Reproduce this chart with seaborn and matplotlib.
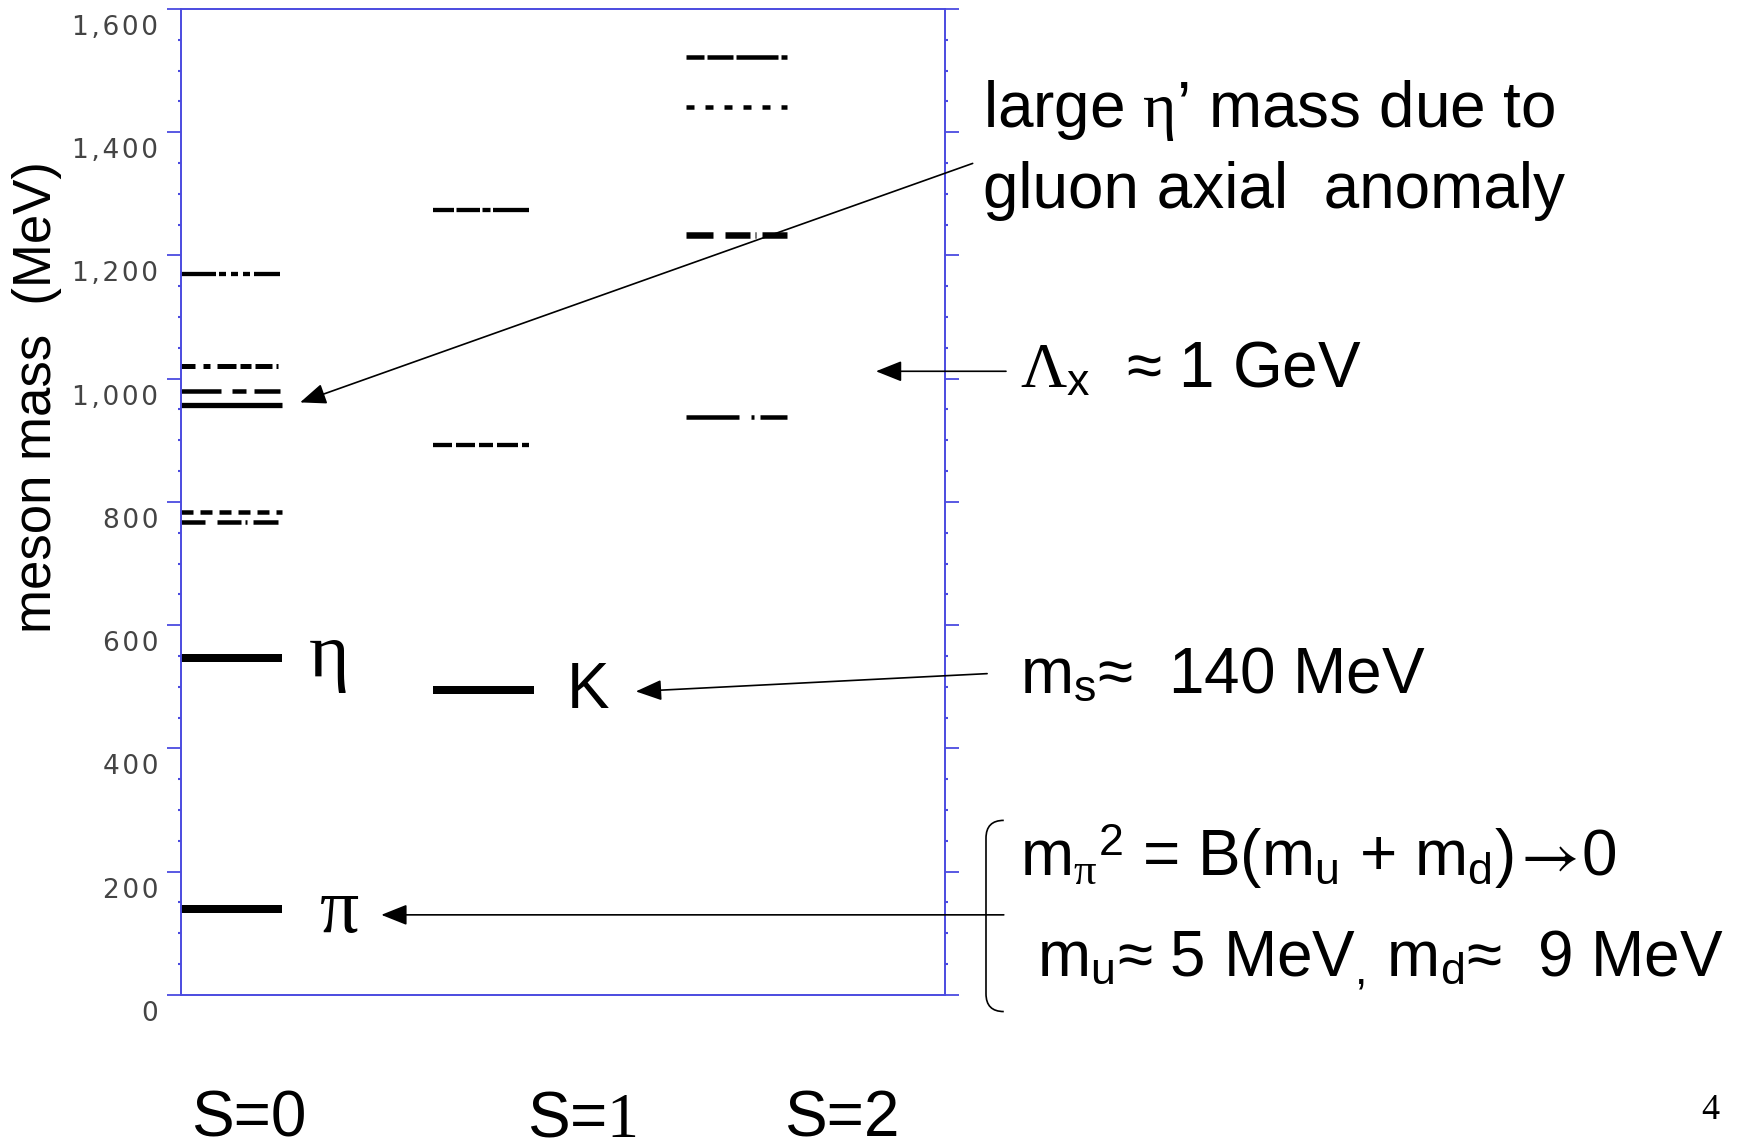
import matplotlib
matplotlib.use("Agg")
import matplotlib.pyplot as plt
import seaborn as sns
from matplotlib.ticker import FixedLocator, AutoMinorLocator
from matplotlib.transforms import ScaledTranslation
from matplotlib.path import Path
from matplotlib.patches import PathPatch, FancyArrowPatch

# ---------------- data ----------------
column_labels = ["S=0", "S=$1$", "S=2"]
level_strangeness = [0, 0, 0, 0, 0, 0, 0, 0, 1, 1, 1, 2, 2, 2, 2]
level_mass = [139, 547, 768, 783, 957, 980, 1021, 1170, 494, 893, 1273, 938, 1233, 1441, 1522]
level_style = ["bold", "bold", "omega", "rho", "solid", "a0", "phi", "h1",
               "bold", "kstar", "k1", "s2a", "s2b", "s2c", "s2d"]
ytick_values = [0, 200, 400, 600, 800, 1000, 1200, 1400, 1600]
ytick_labels = ["0", "200", "400", "600", "800", "1,000", "1,200", "1,400", "1,600"]

# ---------------- styles (pixels) ----------------
STYLES = {
    "bold":  (8.0, None),
    "solid": (5.3, None),
    "omega": (4.5, (24, 12, 24, 4, 2, 6, 25)),
    "rho":   (4.5, (12, 7)),
    "a0":    (4.5, (40, 11, 14, 8, 26)),
    "phi":   (5.0, (14, 8, 7, 7, 19, 4, 11, 4, 17, 4, 2)),
    "h1":    (4.3, (35, 3, 7, 5, 7, 5, 7, 4, 26)),
    "kstar": (4.3, (19, 4, 19, 4, 14, 4, 21, 4, 7)),
    "k1":    (4.3, (21, 2.5, 23.5, 2.5, 8, 2.5, 36)),
    "s2a":   (4.5, (53, 12, 3, 6, 27)),
    "s2b":   (6.5, (27, 12, 25, 5, 1, 6, 25)),
    "s2c":   (4.5, (8, 11)),
    "s2d":   (4.5, (18, 3, 26, 3, 42, 3, 7)),
}
PX = 0.72  # points per pixel at dpi 100
BLUE = "#4b4be0"
HW = 0.2
HAIR = "\u200a"

W, H = 1743, 1147
SC = 1743 / 1568.0

sns.set_style("white")
plt.rcParams["font.family"] = ["Liberation Sans", "DejaVu Sans"]
plt.rcParams["mathtext.fontset"] = "custom"
plt.rcParams["mathtext.rm"] = "Liberation Serif"
plt.rcParams["mathtext.it"] = "Liberation Serif"
plt.rcParams["mathtext.sf"] = "Liberation Sans"
plt.rcParams["mathtext.bf"] = "Liberation Sans:bold"
plt.rcParams["mathtext.fallback"] = "stix"
plt.rcParams["lines.scale_dashes"] = False

fig = plt.figure(figsize=(W / 100, H / 100), dpi=100)
fig.patch.set_facecolor("white")
renderer = fig.canvas.get_renderer()


def fpt(xs, ys):
    return (xs * SC / W, 1 - ys * SC / H)


def ftext(xs, ys, s, **kw):
    kw.setdefault("va", "baseline")
    kw.setdefault("ha", "left")
    kw.setdefault("color", "black")
    x, y = fpt(xs, ys)
    return fig.text(x, y, s, **kw)


def right_edge_shrunk(t):
    return t.get_window_extent(renderer).x1 / SC


ax = fig.add_axes([0.1040, 0.13261, 0.4382, 0.85963])
ax.set_facecolor("white")

for s, m, st in zip(level_strangeness, level_mass, level_style):
    lw_px, pat = STYLES[st]
    ls = "-" if pat is None else (0, tuple(p * PX for p in pat))
    sns.lineplot(x=[s - HW, s + HW], y=[m, m], ax=ax, color="black",
                 linewidth=lw_px * PX, linestyle=ls, dash_capstyle="butt",
                 solid_capstyle="butt", legend=False, estimator=None)

ax.set_xlim(-0.198, 2.828)
ax.set_ylim(0, 1600)
ax.set_xlabel("")
ax.set_xticks([])

for sp in ax.spines.values():
    sp.set_color(BLUE)
    sp.set_linewidth(1.4)
    sp.set_visible(True)

ax.yaxis.set_major_locator(FixedLocator(ytick_values))
ax.set_yticklabels([HAIR.join(lbl) for lbl in ytick_labels])
ax.yaxis.set_minor_locator(AutoMinorLocator(4))
ax.tick_params(axis="y", which="major", left=True, right=True, direction="out",
               length=10, width=1.3, color=BLUE, pad=6.5, labelsize=19,
               labelcolor="#444444")
ax.tick_params(axis="y", which="minor", left=True, right=True, direction="out",
               length=2, width=1.5, color=BLUE)
for lab in ax.get_yticklabels():
    lab.set_fontfamily("DejaVu Sans")
offset = ScaledTranslation(0, -16 / 100, fig.dpi_scale_trans)
for t in ax.yaxis.get_major_ticks():
    t.label1.set_transform(t.label1.get_transform() + offset)

ax.set_ylabel("meson mass  (MeV)", fontsize=38, color="black")
ax.yaxis.label.set_va("center")
ax.yaxis.set_label_coords((37 - 181.2) / 763.7, (994.9 - 397) / 986.0)

# level labels
ftext(278, 608, "η", family="Liberation Serif", fontsize=56)
ftext(288, 838, "π", family="Liberation Serif", fontsize=56)
ftext(510, 637, "K", fontsize=46)

# column labels
for xs, lab in zip([172, 474, 705], column_labels):
    ftext(xs, 1022, lab, fontsize=46)

# annotations
FS = 46
ftext(884, 114, "large $\\eta$’ mass due to", fontsize=FS)
ftext(884, 187, "gluon axial  anomaly", fontsize=FS)
ftext(918, 348, r"$\Lambda_{\mathsf{x}}$  ≈ 1 GeV", fontsize=FS)
ftext(918, 624, r"m$_{\mathsf{s}}$≈  140 MeV", fontsize=FS)
t_eq = ftext(918, 788, r"m$_{\pi}$$^{\mathsf{2}}$ = B(m$_{\mathsf{u}}$ + m$_{\mathsf{d}}$)", fontsize=FS)
x_arrow = right_edge_shrunk(t_eq) + 6
t_arr = ftext(x_arrow, 788, "\u2192", family="STIXGeneral", fontsize=FS)
ftext(right_edge_shrunk(t_arr) + 2, 788, "0", fontsize=FS)
ftext(933, 878, r"m$_{\mathsf{u}}$≈ 5 MeV$_{\mathsf{,}}$ m$_{\mathsf{d}}$≈  9 MeV", fontsize=FS)
ftext(1530, 1007, "4", family="Liberation Serif", fontsize=26)


def arrow(x0, y0, x1, y1):
    fig.add_artist(FancyArrowPatch(posA=fpt(x0, y0), posB=fpt(x1, y1),
                                   transform=fig.transFigure,
                                   arrowstyle="-|>,head_length=0.4,head_width=0.16",
                                   mutation_scale=40, lw=1.2, color="black",
                                   shrinkA=0, shrinkB=0))


arrow(875, 147, 270, 362)
arrow(905, 334, 788, 334)
arrow(888, 606, 572, 622)
arrow(903, 823, 343, 823)

# brace
pts = [fpt(903, 738), fpt(887, 738), fpt(887, 754), fpt(887, 894),
       fpt(887, 910), fpt(903, 910)]
codes = [Path.MOVETO, Path.CURVE3, Path.CURVE3, Path.LINETO, Path.CURVE3, Path.CURVE3]
fig.add_artist(PathPatch(Path(pts, codes), transform=fig.transFigure,
                         fill=False, lw=1.2, edgecolor="black"))

fig.savefig("out.png", dpi=100, facecolor="white")
